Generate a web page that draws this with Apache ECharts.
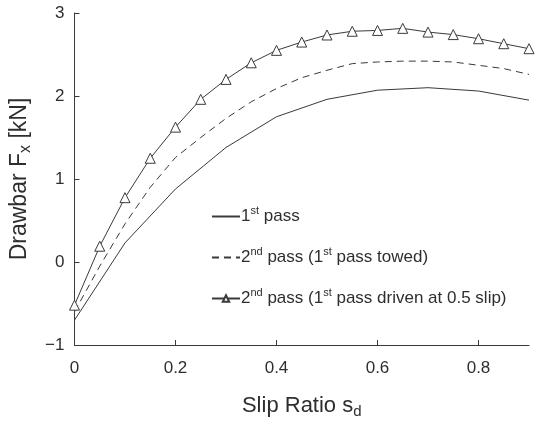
<!DOCTYPE html>
<html><head><meta charset="utf-8">
<script src="https://cdn.jsdelivr.net/npm/echarts@6/dist/echarts.min.js"></script>
<style>html,body{margin:0;padding:0;background:#fff}#c{width:536px;height:425px}</style>
</head><body><div id="c"></div>
<script>
const slip10 = [0, 0.1, 0.2, 0.3, 0.4, 0.5, 0.6, 0.7, 0.8, 0.9];
const slip05 = [0, 0.05, 0.1, 0.15, 0.2, 0.25, 0.3, 0.35, 0.4, 0.45, 0.5, 0.55, 0.6, 0.65, 0.7, 0.75, 0.8, 0.85, 0.9];
const firstPass = [-0.70, 0.23, 0.88, 1.38, 1.75, 1.96, 2.07, 2.10, 2.06, 1.95];
const secondTowed = [-0.60, -0.05, 0.46, 0.90, 1.26, 1.50, 1.73, 1.93, 2.09, 2.22, 2.31, 2.39, 2.41, 2.42, 2.42, 2.41, 2.37, 2.33, 2.26];
const secondDriven = [-0.52, 0.19, 0.775, 1.25, 1.625, 1.96, 2.20, 2.40, 2.55, 2.65, 2.735, 2.78, 2.79, 2.815, 2.77, 2.74, 2.69, 2.63, 2.57];
const legendNames = ['1st pass', '2nd pass (1st pass towed)', '2nd pass (1st pass driven at 0.5 slip)'];
const legendRich = ['1{s|st} pass', '2{s|nd} pass (1{s|st} pass towed)', '2{s|nd} pass (1{s|st} pass driven at 0.5 slip)'];

const FONT = 'Liberation Sans, Arial, sans-serif';
const C = '#3a3a3a';
const pair = (xs, ys) => xs.map((x, i) => [x, ys[i]]);

const chart = echarts.init(document.getElementById('c'), null, {renderer: 'canvas'});
chart.setOption({
  animation: false,
  backgroundColor: '#fff',
  grid: {left: 74, right: 7, top: 13, bottom: 80},
  legend: {
    orient: 'vertical', left: 206, top: 200, itemGap: 18,
    itemWidth: 28, itemHeight: 8,
    data: [
      {name: legendNames[0], itemStyle: {opacity: 0}},
      {name: legendNames[1], itemStyle: {opacity: 0}},
      {name: legendNames[2]}
    ],
    formatter: n => legendRich[legendNames.indexOf(n)],
    textStyle: {
      fontFamily: FONT, fontSize: 17, color: '#2e2e2e', lineHeight: 23, padding: [0, 0, 0, -4],
      rich: {s: {fontFamily: FONT, fontSize: 11, color: '#2e2e2e', verticalAlign: 'top', lineHeight: 10}}
    }
  },
  xAxis: {
    type: 'value', min: 0, max: 0.9, interval: 0.2,
    name: 'Slip Ratio s{d|d}', nameLocation: 'middle', nameGap: 47,
    nameTextStyle: {fontFamily: FONT, fontSize: 22, color: '#2e2e2e',
      rich: {d: {fontFamily: FONT, fontSize: 15, color: '#2e2e2e', padding: [12, 0, 0, 0]}}},
    axisLine: {onZero: false, lineStyle: {color: C, width: 1}},
    axisTick: {inside: true, length: 5, lineStyle: {color: C}},
    axisLabel: {fontFamily: FONT, fontSize: 17, color: '#2e2e2e', margin: 15, showMaxLabel: false},
    splitLine: {show: false}
  },
  yAxis: {
    type: 'value', min: -1, max: 3, interval: 1,
    name: 'Drawbar F{x|x} [kN]', nameLocation: 'middle', nameGap: 41,
    nameTextStyle: {fontFamily: FONT, fontSize: 23, color: '#2e2e2e',
      rich: {x: {fontFamily: FONT, fontSize: 16, color: '#2e2e2e', padding: [12, 0, 0, 0]}}},
    axisLine: {show: true, onZero: false, lineStyle: {color: C, width: 1}},
    axisTick: {show: true, inside: true, length: 5, lineStyle: {color: C}},
    axisLabel: {fontFamily: FONT, fontSize: 17, color: '#2e2e2e', margin: 10,
      formatter: v => String(v).replace('-', '\u2212')},
    splitLine: {show: false}
  },
  series: [
    {name: legendNames[0], type: 'line', data: pair(slip10, firstPass), showSymbol: false, symbol: 'none',
      lineStyle: {color: C, width: 1}, itemStyle: {color: C}},
    {name: legendNames[1], type: 'line', data: pair(slip05, secondTowed), showSymbol: false, symbol: 'none',
      lineStyle: {color: C, width: 1, type: [7, 5]}, itemStyle: {color: C}},
    {name: legendNames[2], type: 'line', data: pair(slip05, secondDriven), symbol: 'triangle', symbolSize: 10,
      lineStyle: {color: C, width: 1}, itemStyle: {color: '#fff', borderColor: C, borderWidth: 1}}
  ]
});
</script></body></html>
